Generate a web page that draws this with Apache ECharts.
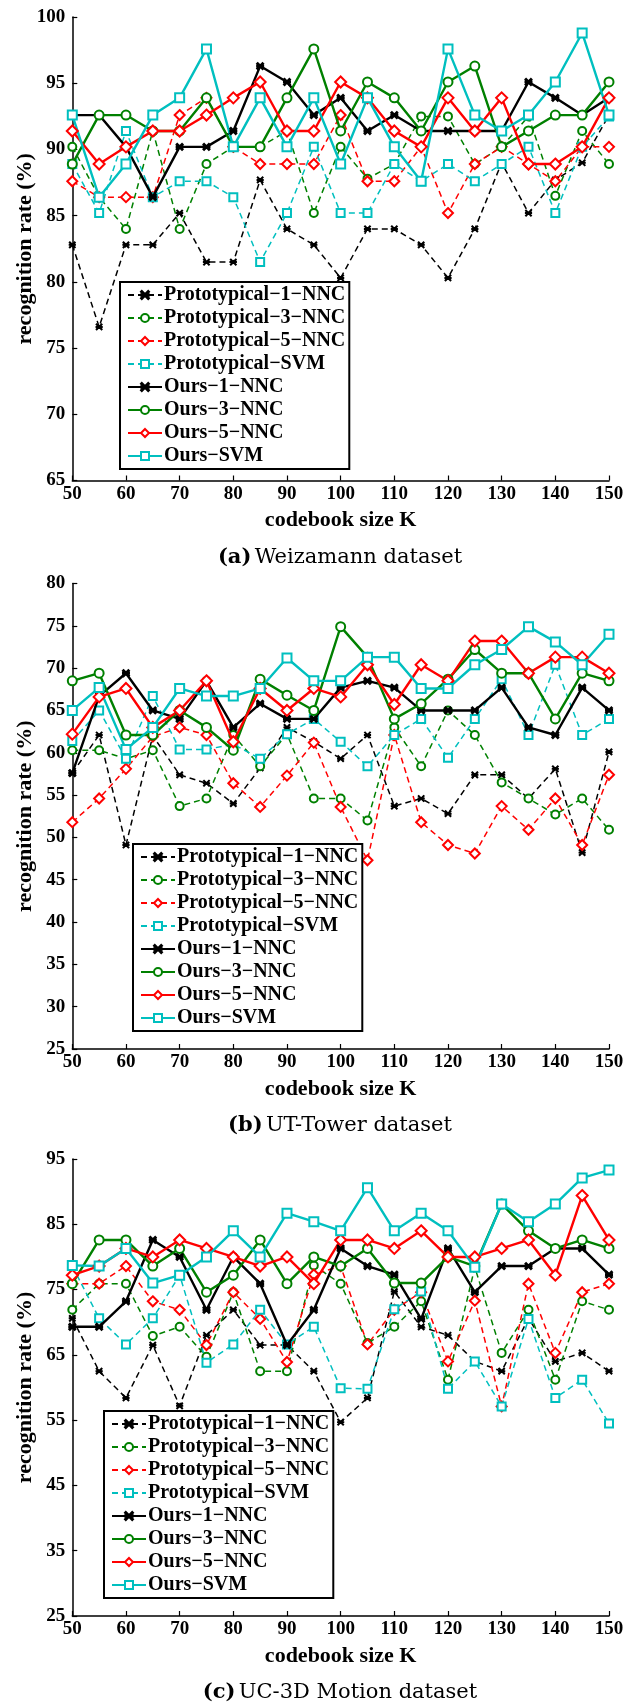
<!DOCTYPE html>
<html><head><meta charset="utf-8">
<script src="https://cdn.jsdelivr.net/npm/echarts@6/dist/echarts.min.js"></script>
<style>html,body{margin:0;padding:0;background:#fff}#c{width:633px;height:1705px}</style>
</head><body><div id="c"></div>
<script>
// ---------- data ----------
const K = [50,55,60,65,70,75,80,85,90,95,100,105,110,115,120,125,130,135,140,145,150];
const seriesNames = ['Prototypical\u22121\u2212NNC','Prototypical\u22123\u2212NNC','Prototypical\u22125\u2212NNC','Prototypical\u2212SVM','Ours\u22121\u2212NNC','Ours\u22123\u2212NNC','Ours\u22125\u2212NNC','Ours\u2212SVM'];
const xTitle = 'codebook size K';
const yTitle = 'recognition rate (%)';
const captionTags = ['(a)','(b)','(c)'];
const captionTexts = ['Weizamann dataset','UT-Tower dataset','UC-3D Motion dataset'];

// (a) Weizamann
const aProto1 = [82.8,76.6,82.8,82.8,85.2,81.5,81.5,87.7,84.0,82.8,80.3,84.0,84.0,82.8,80.3,84.0,89.0,85.2,87.7,89.0,92.6];
const aProto3 = [90.2,86.4,84.0,91.4,84.0,88.9,90.2,90.2,91.4,85.2,90.2,87.8,88.9,92.5,92.5,88.9,90.2,92.5,86.5,91.4,88.9];
const aProto5 = [87.6,86.4,86.4,86.4,92.6,93.9,90.2,88.9,88.9,88.9,92.6,87.6,87.6,90.2,85.2,88.9,90.2,88.9,87.6,90.2,90.2];
const aProtoS = [88.9,85.2,91.4,86.4,87.6,87.6,86.4,81.5,85.2,90.2,85.2,85.2,88.9,87.6,88.9,87.6,88.9,90.2,85.2,90.2,92.5];
const aOurs1  = [92.6,92.6,90.2,86.4,90.2,90.2,91.4,96.3,95.1,92.6,93.9,91.4,92.6,91.4,91.4,91.4,91.4,95.1,93.9,92.6,93.9];
const aOurs3  = [88.9,92.6,92.6,91.4,91.4,93.9,90.2,90.2,93.9,97.6,91.4,95.1,93.9,91.4,95.1,96.3,90.2,91.4,92.6,92.6,95.1];
const aOurs5  = [91.4,88.9,90.2,91.4,91.4,92.6,93.9,95.1,91.4,91.4,95.1,93.9,91.4,90.2,93.9,91.4,93.9,88.9,88.9,90.2,93.9];
const aOursS  = [92.6,86.4,88.9,92.6,93.9,97.6,90.2,93.9,90.2,93.9,88.9,93.9,90.2,87.6,97.6,92.6,91.4,92.6,95.1,98.8,92.6];

// (b) UT-Tower
const bProto1 = [57.6,62.1,49.1,62.0,57.4,56.4,54.0,58.2,63.0,61.3,59.3,62.1,53.7,54.6,52.8,57.4,57.4,54.6,58.1,48.2,60.1];
const bProto3 = [60.3,60.3,59.3,60.3,53.7,54.6,62.1,58.4,62.2,54.6,54.6,52.0,63.0,58.4,65.0,62.1,56.5,54.6,52.7,54.6,50.9];
const bProto5 = [51.8,54.6,58.1,61.9,63.0,62.1,56.4,53.6,57.3,61.2,53.6,47.3,62.1,51.8,49.1,48.1,53.7,50.9,54.6,49.1,57.4];
const bProtoS = [61.4,65.0,59.3,66.7,60.4,60.4,61.0,59.3,62.2,64.0,61.3,58.4,62.1,64.0,59.4,64.0,68.7,62.1,70.4,62.1,64.0];
const bOurs1  = [57.6,66.7,69.4,65.0,64.0,68.5,63.0,65.8,64.0,64.0,67.7,68.5,67.7,65.0,65.0,65.0,67.7,63.0,62.1,67.7,65.0];
const bOurs3  = [68.5,69.4,62.1,62.1,65.0,63.0,60.3,68.7,66.8,65.0,74.9,71.3,64.0,65.8,68.7,72.2,69.4,69.4,64.0,69.4,68.5];
const bOurs5  = [62.2,66.6,67.6,63.0,65.0,68.5,61.3,67.6,65.0,67.6,66.6,70.4,65.7,70.4,68.5,73.2,73.2,69.4,71.3,71.3,69.4];
const bOursS  = [65.0,67.7,60.4,63.0,67.6,66.7,66.7,67.6,71.2,68.5,68.5,71.3,71.3,67.6,67.6,70.4,72.2,74.9,73.1,70.4,74.0];

// (c) UC-3D Motion
const cProto1 = [70.6,62.5,58.4,66.5,57.2,68.0,71.9,66.5,66.5,62.5,54.7,58.4,74.7,69.3,68.0,64.0,62.5,70.6,64.0,65.3,62.5];
const cProto3 = [71.9,75.9,75.9,67.9,69.3,64.7,74.6,62.5,62.5,78.7,75.9,66.8,69.3,73.2,61.2,78.4,65.3,71.9,61.2,73.2,71.9];
const cProto5 = [75.9,75.9,78.6,73.2,71.9,66.5,74.6,70.5,63.9,77.3,78.6,66.6,71.9,74.6,64.0,73.3,57.1,75.9,65.3,74.6,75.9];
const cProtoS = [78.6,70.6,66.6,70.6,77.2,63.8,66.6,71.9,66.6,69.3,59.9,59.8,72.0,74.7,59.8,64.0,57.1,70.5,58.4,61.2,54.5];
const cOurs1  = [69.3,69.3,73.2,82.6,80.0,71.9,80.0,75.9,66.5,71.9,81.3,78.6,77.3,70.5,81.3,74.6,78.6,78.6,81.3,81.3,77.3];
const cOurs3  = [75.9,82.6,82.6,78.6,81.3,74.6,77.2,82.6,75.9,80.0,78.6,81.3,76.0,76.0,80.0,78.6,88.1,84.0,81.3,82.6,81.3];
const cOurs5  = [77.2,78.6,81.3,80.0,82.6,81.3,80.0,78.6,80.0,75.9,82.6,82.6,81.3,84.0,80.0,80.0,81.3,82.6,77.2,89.4,82.6];
const cOursS  = [78.7,78.6,81.3,76.0,77.2,80.0,84.0,80.0,86.7,85.4,84.0,90.6,84.0,86.7,84.0,78.4,88.1,85.4,88.1,92.1,93.3];

const yMins = [65,25,25], yMaxs = [100,80,95], yIntervals = [5,5,10];
const xMin = 50, xMax = 150, xInterval = 10;

// ---------- layout / style ----------
const panelData = [
  [aProto1,aProto3,aProto5,aProtoS,aOurs1,aOurs3,aOurs5,aOursS],
  [bProto1,bProto3,bProto5,bProtoS,bOurs1,bOurs3,bOurs5,bOursS],
  [cProto1,cProto3,cProto5,cProtoS,cOurs1,cOurs3,cOurs5,cOursS]
];
const GL = 72.3, GW = 536.7;
const grids = [
  {top:17.1, height:463.4, legend:{left:120, top:282}},
  {top:583.5, height:465.5, legend:{left:133, top:844}},
  {top:1159, height:457, legend:{left:104, top:1411}}
];
const STAR = 'path://M0,1L1,0L10,9L9,10Z M9,0L10,1L1,10L0,9Z M0,4.4L10,4.4L10,5.6L0,5.6Z';
const CYAN = '#00bfbf', GREEN = '#008000', RED = '#ff0000', BLACK = '#000000';
const sty = [
  {c:BLACK, dash:true, sym:STAR, size:6},
  {c:GREEN, dash:true, sym:'emptyCircle', size:8},
  {c:RED,   dash:true, sym:'emptyDiamond', size:10},
  {c:CYAN,  dash:true, sym:'emptyRect', size:8},
  {c:BLACK, dash:false, sym:STAR, size:6},
  {c:GREEN, dash:false, sym:'emptyCircle', size:9},
  {c:RED,   dash:false, sym:'emptyDiamond', size:11},
  {c:CYAN,  dash:false, sym:'emptyRect', size:9}
];
const SERIF = 'Liberation Serif';

const option = {
  backgroundColor:'#fff',
  animation:false,
  grid:[], xAxis:[], yAxis:[], series:[], legend:[], graphic:[]
};

grids.forEach((g,p)=>{
  option.grid.push({left:GL, width:GW, top:g.top, height:g.height, containLabel:false});
  option.xAxis.push({
    type:'value', gridIndex:p, min:xMin, max:xMax, interval:xInterval,
    axisLine:{lineStyle:{color:'#000', width:1.5}},
    axisTick:{inside:true, length:5, lineStyle:{color:'#000', width:1.2}},
    axisLabel:{color:'#000', fontFamily:SERIF, fontWeight:'bold', fontSize:19, margin:4},
    splitLine:{show:false}
  });
  option.yAxis.push({
    type:'value', gridIndex:p, min:yMins[p], max:yMaxs[p], interval:yIntervals[p],
    axisLine:{show:true, lineStyle:{color:'#000', width:1.5}},
    axisTick:{show:true, inside:true, length:5, lineStyle:{color:'#000', width:1.2}},
    axisLabel:{color:'#000', fontFamily:SERIF, fontWeight:'bold', fontSize:19, margin:7},
    splitLine:{show:false}
  });
  panelData[p].forEach((arr,i)=>{
    const s = sty[i];
    option.series.push({
      name:seriesNames[i], type:'line', xAxisIndex:p, yAxisIndex:p,
      data:K.map((k,j)=>[k,arr[j]]),
      color:s.c,
      symbol:s.sym, symbolSize:s.size, showAllSymbol:true,
      lineStyle:{color:s.c, width:s.dash?1.5:2.4, type:s.dash?[6,4]:'solid'},
      itemStyle:{color:s.c, borderColor:s.c, borderWidth:s.dash?1.2:2},
      z: s.dash?2:3
    });
  });
  option.legend.push({
    orient:'vertical', left:g.legend.left, top:g.legend.top,
    data:seriesNames,
    backgroundColor:'#fff', borderColor:'#000', borderWidth:2,
    padding:[3,4,3,7], itemWidth:34, itemHeight:10, itemGap:3,
    textStyle:{color:'#000', fontFamily:SERIF, fontWeight:'bold', fontSize:20, padding:[0,0,0,-3]},
    selectedMode:false
  });
  const axisBottom = g.top + g.height;
  option.graphic.push({
    type:'text', x:GL + GW/2, y:axisBottom + 40,
    style:{text:xTitle, fill:'#000', fontFamily:SERIF, fontWeight:'bold', fontSize:22, textAlign:'center', textVerticalAlign:'middle'}
  });
  option.graphic.push({
    type:'text', x:25, y:g.top + g.height/2, rotation:Math.PI/2,
    style:{text:yTitle, fill:'#000', fontFamily:SERIF, fontWeight:'bold', fontSize:22, textAlign:'center', textVerticalAlign:'middle'}
  });
  option.graphic.push({
    type:'text', x:340, y:axisBottom + 77,
    style:{
      text:'{t|'+captionTags[p]+'} {r|'+captionTexts[p]+'}',
      textAlign:'center', textVerticalAlign:'middle',
      rich:{
        t:{fontFamily:'DejaVu Serif', fontWeight:'bold', fontSize:21, fill:'#000'},
        r:{fontFamily:'DejaVu Serif', fontSize:21, fill:'#000'}
      }
    }
  });
});

const chart = echarts.init(document.getElementById('c'), null, {renderer:'canvas', width:633, height:1705});
chart.setOption(option);
</script></body></html>
